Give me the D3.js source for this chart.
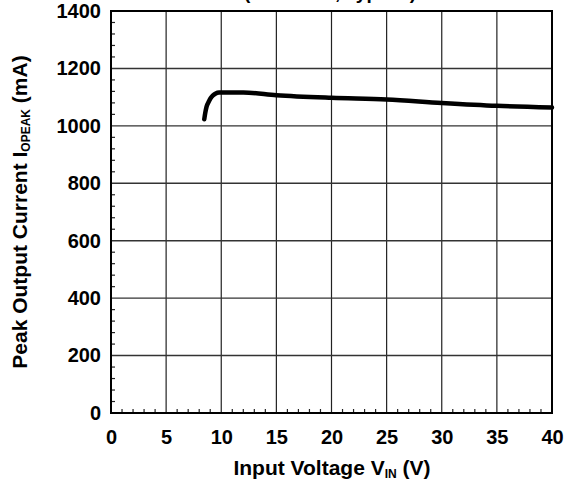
<!DOCTYPE html>
<html><head><meta charset="utf-8">
<script src="https://cdn.jsdelivr.net/npm/d3@7"></script>
<style>body{margin:0;background:#fff}svg{display:block}text{font-family:"Liberation Sans",Arial,sans-serif;font-weight:bold;fill:#000}</style>
</head><body><div id="chart"></div>
<script>
const vin = [8.46, 8.55, 8.67, 8.85, 9.03, 9.25, 9.5, 9.8, 10.5, 12, 15, 20, 25, 30, 35, 40];
const ipeak = [1023, 1045, 1067, 1083, 1096, 1106, 1113, 1116, 1116, 1116, 1107, 1098, 1092, 1080, 1070, 1064];
const xTicks = [0, 5, 10, 15, 20, 25, 30, 35, 40];
const yTicks = [0, 200, 400, 600, 800, 1000, 1200, 1400];
const titleText = "(Ta = 25°C, Typical)";

const W = 566, H = 484;
const m = {left: 111, right: 552, top: 11, bottom: 413};
const svg = d3.select("#chart").append("svg").attr("width", W).attr("height", H);
const x = d3.scaleLinear().domain([0, 40]).range([m.left, m.right]);
const y = d3.scaleLinear().domain([0, 1400]).range([m.bottom, m.top]);

// title (clipped at top, as in the reference)
svg.append("text").attr("x", 330).attr("y", -1).attr("text-anchor", "middle")
  .style("font-size", "19px").text(titleText);

// gridlines
const g = svg.append("g");
g.selectAll(".vg").data(xTicks.slice(1, -1)).join("line")
  .attr("x1", d => x(d)).attr("x2", d => x(d)).attr("y1", m.top).attr("y2", m.bottom)
  .attr("stroke", "#222").attr("stroke-width", 1.2);
g.selectAll(".hg").data(yTicks.slice(1, -1)).join("line")
  .attr("x1", m.left).attr("x2", m.right).attr("y1", d => y(d)).attr("y2", d => y(d))
  .attr("stroke", "#333").attr("stroke-width", 1.4);

// minor ticks
const xMinor = d3.range(0, 41, 1).filter(d => d % 5 !== 0);
g.selectAll(".xm").data(xMinor).join("line")
  .attr("x1", d => x(d)).attr("x2", d => x(d)).attr("y1", m.bottom).attr("y2", m.bottom - 4)
  .attr("stroke", "#222").attr("stroke-width", 1.2);
const yMinor = d3.range(0, 1401, 40).filter(d => d % 200 !== 0);
g.selectAll(".ym").data(yMinor).join("line")
  .attr("x1", m.left).attr("x2", m.left + 4).attr("y1", d => y(d)).attr("y2", d => y(d))
  .attr("stroke", "#222").attr("stroke-width", 1.2);

// frame
svg.append("rect").attr("x", m.left).attr("y", m.top)
  .attr("width", m.right - m.left).attr("height", m.bottom - m.top)
  .attr("fill", "none").attr("stroke", "#000").attr("stroke-width", 2);

// axes labels via d3 axes
const fmt = d3.format("d");
const xAxis = svg.append("g").attr("transform", `translate(0,${m.bottom})`)
  .call(d3.axisBottom(x).tickValues(xTicks).tickFormat(fmt).tickSize(0).tickPadding(17));
xAxis.select(".domain").remove();
xAxis.selectAll("text").style("font-size", "20px").style("font-family", "Liberation Sans, Arial, sans-serif").style("font-weight", "bold").attr("fill", "#000");
const yAxis = svg.append("g").attr("transform", `translate(${m.left},0)`)
  .call(d3.axisLeft(y).tickValues(yTicks).tickFormat(fmt).tickSize(0).tickPadding(10));
yAxis.select(".domain").remove();
yAxis.selectAll("text").style("font-size", "20px").style("font-family", "Liberation Sans, Arial, sans-serif").style("font-weight", "bold").attr("fill", "#000");

// curve
svg.append("path").datum(vin.map((v, i) => [v, ipeak[i]]))
  .attr("d", d3.line().x(d => x(d[0])).y(d => y(d[1])).curve(d3.curveMonotoneX))
  .attr("fill", "none").attr("stroke", "#000").attr("stroke-width", 4.5).attr("stroke-linecap", "round");

// x title
const xt = svg.append("text").attr("x", 332).attr("y", 475).attr("text-anchor", "middle").style("font-size", "21px");
xt.append("tspan").text("Input Voltage V");
xt.append("tspan").text("IN").style("font-size", "12px").attr("dy", 3);
xt.append("tspan").text(" (V)").attr("dy", -3);

// y title
const yt = svg.append("text").attr("transform", `translate(27,212) rotate(-90)`).attr("text-anchor", "middle").style("font-size", "21px");
yt.append("tspan").text("Peak Output Current I");
yt.append("tspan").text("OPEAK").style("font-size", "12px").attr("dy", 3);
yt.append("tspan").text(" (mA)").attr("dy", -3);
</script></body></html>
